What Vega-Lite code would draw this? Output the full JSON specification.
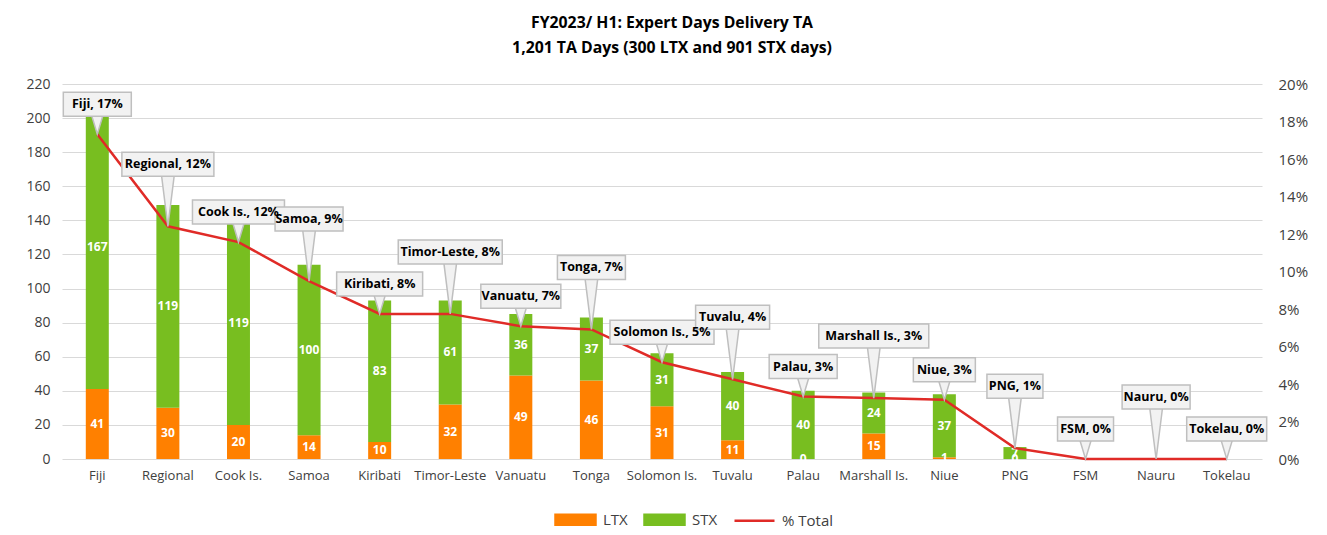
{
  "$schema": "https://vega.github.io/schema/vega-lite/v6.json",
  "width": 1200,
  "height": 375,
  "autosize": {"type": "none"},
  "padding": {"left": 62, "top": 84, "right": 65, "bottom": 76},
  "background": "white",
  "title": {
    "text": ["FY2023/ H1: Expert Days Delivery TA", "1,201 TA Days (300 LTX and 901 STX days)"],
    "font": "Open Sans",
    "fontSize": 15.8,
    "fontWeight": "bold",
    "color": "#000000",
    "lineHeight": 25,
    "anchor": "middle",
    "dx": 10,
    "offset": 20
  },
  "datasets": {
    "bars": [
      {"country": "Fiji", "series": "LTX", "days": 41},
      {"country": "Fiji", "series": "STX", "days": 167},
      {"country": "Regional", "series": "LTX", "days": 30},
      {"country": "Regional", "series": "STX", "days": 119},
      {"country": "Cook Is.", "series": "LTX", "days": 20},
      {"country": "Cook Is.", "series": "STX", "days": 119},
      {"country": "Samoa", "series": "LTX", "days": 14},
      {"country": "Samoa", "series": "STX", "days": 100},
      {"country": "Kiribati", "series": "LTX", "days": 10},
      {"country": "Kiribati", "series": "STX", "days": 83},
      {"country": "Timor-Leste", "series": "LTX", "days": 32},
      {"country": "Timor-Leste", "series": "STX", "days": 61},
      {"country": "Vanuatu", "series": "LTX", "days": 49},
      {"country": "Vanuatu", "series": "STX", "days": 36},
      {"country": "Tonga", "series": "LTX", "days": 46},
      {"country": "Tonga", "series": "STX", "days": 37},
      {"country": "Solomon Is.", "series": "LTX", "days": 31},
      {"country": "Solomon Is.", "series": "STX", "days": 31},
      {"country": "Tuvalu", "series": "LTX", "days": 11},
      {"country": "Tuvalu", "series": "STX", "days": 40},
      {"country": "Palau", "series": "LTX", "days": 0},
      {"country": "Palau", "series": "STX", "days": 40},
      {"country": "Marshall Is.", "series": "LTX", "days": 15},
      {"country": "Marshall Is.", "series": "STX", "days": 24},
      {"country": "Niue", "series": "LTX", "days": 1},
      {"country": "Niue", "series": "STX", "days": 37},
      {"country": "PNG", "series": "LTX", "days": 0},
      {"country": "PNG", "series": "STX", "days": 7}
    ],
    "totals": [
      {"country": "Fiji", "pct": 0.1732},
      {"country": "Regional", "pct": 0.1241},
      {"country": "Cook Is.", "pct": 0.1157},
      {"country": "Samoa", "pct": 0.0949},
      {"country": "Kiribati", "pct": 0.0774},
      {"country": "Timor-Leste", "pct": 0.0774},
      {"country": "Vanuatu", "pct": 0.0708},
      {"country": "Tonga", "pct": 0.0691},
      {"country": "Solomon Is.", "pct": 0.0516},
      {"country": "Tuvalu", "pct": 0.0425},
      {"country": "Palau", "pct": 0.0333},
      {"country": "Marshall Is.", "pct": 0.0325},
      {"country": "Niue", "pct": 0.0316},
      {"country": "PNG", "pct": 0.0058},
      {"country": "FSM", "pct": 0},
      {"country": "Nauru", "pct": 0},
      {"country": "Tokelau", "pct": 0}
    ]
  },
  "encoding": {
    "x": {
      "field": "country",
      "type": "nominal",
      "sort": null,
      "scale": {
        "domain": ["Fiji", "Regional", "Cook Is.", "Samoa", "Kiribati", "Timor-Leste", "Vanuatu", "Tonga", "Solomon Is.", "Tuvalu", "Palau", "Marshall Is.", "Niue", "PNG", "FSM", "Nauru", "Tokelau"],
        "paddingInner": 0,
        "paddingOuter": 0
      },
      "axis": {
        "title": null,
        "labelAngle": 0,
        "domain": false,
        "ticks": false,
        "labelPadding": 10,
        "labelFont": "Open Sans",
        "labelFontSize": 13,
        "labelColor": "#404040"
      }
    }
  },
  "layer": [
    {
      "data": {"name": "bars"},
      "transform": [
        {"stack": "days", "groupby": ["country"], "sort": [{"field": "series", "order": "ascending"}], "as": ["y0", "y1"]},
        {"calculate": "(datum.y0 + datum.y1) / 2", "as": "ymid"}
      ],
      "layer": [
        {
          "mark": {"type": "bar", "width": 23},
          "encoding": {
            "y": {
              "field": "y1",
              "type": "quantitative",
              "scale": {"domain": [0, 220]},
              "axis": {
                "title": null,
                "values": [0, 20, 40, 60, 80, 100, 120, 140, 160, 180, 200, 220],
                "domain": false,
                "ticks": false,
                "grid": true,
                "gridColor": "#d9d9d9",
                "gridWidth": 1.2,
                "labelPadding": 12,
                "labelFont": "Open Sans",
                "labelFontSize": 14,
                "labelColor": "#404040"
              }
            },
            "y2": {"field": "y0"},
            "color": {
              "field": "series",
              "type": "nominal",
              "scale": {"domain": ["LTX", "STX", "% Total"], "range": ["#ff8000", "#78be20", "#e02b27"]},
              "legend": {
                "title": null,
                "orient": "none",
                "legendX": 492,
                "legendY": 414,
                "direction": "horizontal",
                "labelFont": "Open Sans",
                "labelFontSize": 15,
                "labelColor": "#404040",
                "symbolSize": 1600,
                "symbolType": "M-1,-0.25H1V0.25H-1Z",
                "labelOffset": 6,
                "columnPadding": 11,
                "padding": 0,
                "encode": {
                  "symbols": {
                    "update": {
                      "shape": {"signal": "datum.value === '% Total' ? 'M-1,0H1' : 'M-1,-0.25H1V0.25H-1Z'"},
                      "fill": {"signal": "datum.value === '% Total' ? 'transparent' : scale('color', datum.value)"},
                      "stroke": {"signal": "datum.value === '% Total' ? scale('color', datum.value) : 'transparent'"},
                      "strokeWidth": {"value": 2.5},
                      "opacity": {"value": 1}
                    }
                  }
                }
              }
            }
          }
        },
        {
          "mark": {"type": "text", "font": "Open Sans", "fontWeight": "bold", "fontSize": 12, "color": "white", "baseline": "middle"},
          "encoding": {
            "y": {
              "field": "ymid",
              "type": "quantitative",
              "axis": {
                "title": null,
                "values": [0, 20, 40, 60, 80, 100, 120, 140, 160, 180, 200, 220],
                "domain": false,
                "ticks": false,
                "grid": true,
                "gridColor": "#d9d9d9",
                "gridWidth": 1.2,
                "labelPadding": 12,
                "labelFont": "Open Sans",
                "labelFontSize": 14,
                "labelColor": "#404040"
              }
            },
            "text": {"field": "days", "type": "quantitative"}
          }
        }
      ]
    },
    {
      "data": {"name": "totals"},
      "transform": [
        {"window": [{"op": "row_number", "as": "idx"}]},
        {"calculate": "datum.idx % 2 === 0", "as": "hi"},
        {"calculate": "datum.country + ', ' + format(datum.pct, '.0%')", "as": "label"}
      ],
      "encoding": {
        "y": {
          "field": "pct",
          "type": "quantitative",
          "scale": {"domain": [0, 0.2]},
          "axis": {
            "orient": "right",
            "title": null,
            "format": ".0%",
            "values": [0, 0.02, 0.04, 0.06, 0.08, 0.1, 0.12, 0.14, 0.16, 0.18, 0.2],
            "domain": false,
            "ticks": false,
            "grid": false,
            "labelPadding": 16,
            "labelFont": "Open Sans",
            "labelFontSize": 15,
            "labelColor": "#404040"
          }
        }
      },
      "layer": [
        {
          "mark": {"type": "line", "strokeWidth": 2.5},
          "encoding": {"color": {"datum": "% Total"}}
        },
        {
          "transform": [{"filter": "!datum.hi"}],
          "mark": {"type": "point", "shape": "M-0.6,-1L0.6,-1L0,1Z", "size": 400, "filled": true, "fill": "#f2f2f2", "stroke": "#bfbfbf", "strokeWidth": 1.5, "opacity": 1, "yOffset": -10},
          "encoding": {}
        },
        {
          "transform": [{"filter": "datum.hi"}],
          "mark": {"type": "point", "shape": "M-0.25,-1L0.25,-1L0,1Z", "size": 2704, "filled": true, "fill": "#f2f2f2", "stroke": "#bfbfbf", "strokeWidth": 1.5, "opacity": 1, "yOffset": -26},
          "encoding": {}
        },
        {
          "mark": {"type": "rect", "width": {"expr": "length(datum.label) * 6 + 14"}, "height": 24, "fill": "#f2f2f2", "stroke": "#bfbfbf", "strokeWidth": 1.5, "yOffset": {"expr": "datum.hi ? -62 : -30"}},
          "encoding": {}
        },
        {
          "mark": {"type": "text", "dy": {"expr": "datum.hi ? -62 : -30"}, "font": "Open Sans", "fontWeight": "bold", "fontSize": 12.5, "color": "#000000", "baseline": "middle"},
          "encoding": {"text": {"field": "label", "type": "nominal"}}
        }
      ]
    }
  ],
  "resolve": {"scale": {"y": "independent"}},
  "config": {"view": {"stroke": null}}
}
